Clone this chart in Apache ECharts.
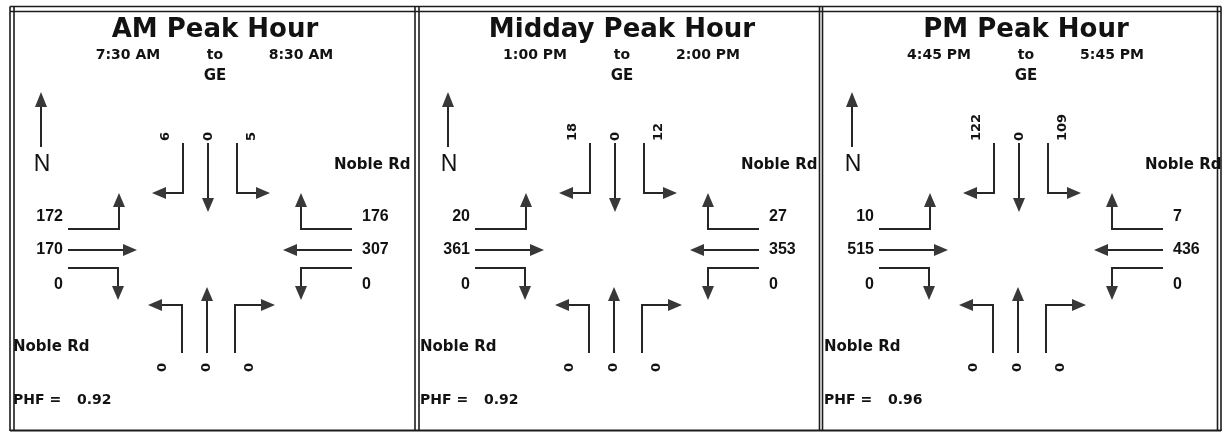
<!DOCTYPE html>
<html><head><meta charset="utf-8">
<script src="https://cdn.jsdelivr.net/npm/echarts@6/dist/echarts.min.js"></script>
<style>html,body{margin:0;padding:0;background:#fff}#c{width:1225px;height:433px}</style>
</head><body><div id="c"></div>
<script>
// ---------------- DATA ----------------
const periods = ['AM Peak Hour', 'Midday Peak Hour', 'PM Peak Hour'];
const startTimes = ['7:30 AM', '1:00 PM', '4:45 PM'];
const endTimes = ['8:30 AM', '2:00 PM', '5:45 PM'];
const locationCode = 'GE';
const eastWestRoad = 'Noble Rd';
const phfValues = ['0.92', '0.92', '0.96'];
// lanes: N/S approaches listed west -> east, E/W approaches listed north -> south
const southbound = [[6, 0, 5], [18, 0, 12], [122, 0, 109]];
const eastbound = [[172, 170, 0], [20, 361, 0], [10, 515, 0]];
const westbound = [[176, 307, 0], [27, 353, 0], [7, 436, 0]];
const northbound = [[0, 0, 0], [0, 0, 0], [0, 0, 0]];

// ---------------- LAYOUT ----------------
const PANEL_LEFT = [9, 416, 820];
const PANEL_W = 404, PANEL_H = 433;
const APPROACHES = ['SB', 'EB', 'WB', 'NB'];
const APPROACH_DATA = { SB: southbound, EB: eastbound, WB: westbound, NB: northbound };
const LANES = {
  SB: [
    { path: [[174, 143], [174, 193], [143, 193]], lab: [157, 141], rot: true },
    { path: [[199, 143], [199, 212]], lab: [200, 141], rot: true },
    { path: [[228, 143], [228, 193], [261, 193]], lab: [243, 141], rot: true }
  ],
  EB: [
    { path: [[59, 229], [110, 229], [110, 193]], lab: [54, 217], align: 'right' },
    { path: [[59, 250], [128, 250]], lab: [54, 250], align: 'right' },
    { path: [[59, 268], [109, 268], [109, 300]], lab: [54, 285], align: 'right' }
  ],
  WB: [
    { path: [[343, 229], [292, 229], [292, 193]], lab: [353, 217], align: 'left' },
    { path: [[343, 250], [274, 250]], lab: [353, 250], align: 'left' },
    { path: [[343, 268], [292, 268], [292, 300]], lab: [353, 285], align: 'left' }
  ],
  NB: [
    { path: [[173, 353], [173, 305], [139, 305]], lab: [154, 372], rot: true },
    { path: [[198, 353], [198, 287]], lab: [198, 372], rot: true },
    { path: [[226, 353], [226, 305], [266, 305]], lab: [241, 372], rot: true }
  ]
};
const LINE_COLOR = '#262626', HEAD_COLOR = '#383838', TEXT_COLOR = '#121212';
const DJ = '"DejaVu Sans", sans-serif', LB = '"Liberation Sans", Arial, sans-serif';

function arrow(pts, L, W) {
  const tip = pts[pts.length - 1], prev = pts[pts.length - 2];
  const dx = tip[0] - prev[0], dy = tip[1] - prev[1];
  const len = Math.hypot(dx, dy) || 1;
  const ux = dx / len, uy = dy / len;
  const base = [tip[0] - ux * L, tip[1] - uy * L];
  const head = [tip, [base[0] - uy * W, base[1] + ux * W], [base[0] + uy * W, base[1] - ux * W]];
  const linePts = pts.slice(0, -1).concat([[base[0] + ux * 2, base[1] + uy * 2]]);
  return [
    { type: 'polyline', shape: { points: linePts }, style: { stroke: LINE_COLOR, lineWidth: 2, fill: null } },
    { type: 'polygon', shape: { points: head }, style: { fill: HEAD_COLOR } }
  ];
}

function renderMove(params, api) {
  const appr = APPROACHES[api.value(0)];
  const lane = LANES[appr][api.value(1)];
  const val = api.value(2);
  const pts = lane.path.map(p => api.coord(p));
  const children = arrow(pts, 14, 6);
  const lp = api.coord(lane.lab);
  if (lane.rot) {
    children.push({ type: 'text', x: lp[0], y: lp[1], rotation: Math.PI / 2,
      style: { text: String(val), x: 0, y: 0, align: 'left', verticalAlign: 'middle', font: 'bold 13px ' + DJ, fill: TEXT_COLOR } });
  } else {
    children.push({ type: 'text',
      style: { text: String(val), x: lp[0], y: lp[1], align: lane.align, verticalAlign: 'middle', font: 'bold 16px ' + LB, fill: TEXT_COLOR } });
  }
  return { type: 'group', children };
}

function txt(api, pos, text, font, align) {
  const p = api.coord(pos);
  return { type: 'text', style: { text, x: p[0], y: p[1], align: align || 'center', verticalAlign: 'middle', font, fill: TEXT_COLOR } };
}

function makeStatic(i) {
  return function (params, api) {
    const children = [
      txt(api, [206, 30], periods[i], 'bold 26px ' + DJ),
      txt(api, [119, 55], startTimes[i], 'bold 14px ' + DJ),
      txt(api, [206, 55], 'to', 'bold 14px ' + DJ),
      txt(api, [292, 55], endTimes[i], 'bold 14px ' + DJ),
      txt(api, [206, 76], locationCode, 'bold 15px ' + DJ),
      txt(api, [33, 165], 'N', '23px ' + LB),
      txt(api, [325, 165], eastWestRoad, 'bold 15px ' + DJ, 'left'),
      txt(api, [4, 347], eastWestRoad, 'bold 15px ' + DJ, 'left'),
      txt(api, [4, 400], 'PHF =', 'bold 14px ' + DJ, 'left'),
      txt(api, [68, 400], phfValues[i], 'bold 14px ' + DJ, 'left')
    ];
    const npts = [api.coord([32, 147]), api.coord([32, 92])];
    arrow(npts, 15, 6).forEach(c => children.push(c));
    return { type: 'group', children };
  };
}

const grids = [], xAxes = [], yAxes = [], series = [];
periods.forEach((name, i) => {
  grids.push({ left: PANEL_LEFT[i], top: 0, width: PANEL_W, height: PANEL_H, show: false });
  xAxes.push({ type: 'value', gridIndex: i, min: 0, max: PANEL_W, show: false });
  yAxes.push({ type: 'value', gridIndex: i, min: 0, max: PANEL_H, inverse: true, show: false });
  const moves = [];
  APPROACHES.forEach((a, ai) => {
    APPROACH_DATA[a][i].forEach((v, li) => moves.push([ai, li, v]));
  });
  series.push({ type: 'custom', name: name, xAxisIndex: i, yAxisIndex: i, silent: true, clip: false,
    renderItem: renderMove, data: moves, animation: false });
  series.push({ type: 'custom', name: name + ' labels', xAxisIndex: i, yAxisIndex: i, silent: true, clip: false,
    renderItem: makeStatic(i), data: [[0, 0]], animation: false });
});

// panel frames (double rules)
const B = '#1c1c1c';
const vx = [10, 14, 415, 419, 819.5, 822.5, 1217.5, 1221];
const graphic = vx.map(x => ({ type: 'line', shape: { x1: x, y1: 6.5, x2: x, y2: 431 }, style: { stroke: B, lineWidth: 1.6 }, silent: true }));
[6.5, 11.5].forEach(y => graphic.push({ type: 'line', shape: { x1: 10, y1: y, x2: 1221, y2: y }, style: { stroke: B, lineWidth: 1.6 }, silent: true }));
graphic.push({ type: 'line', shape: { x1: 10, y1: 430.5, x2: 1221, y2: 430.5 }, style: { stroke: B, lineWidth: 1.8 }, silent: true });

const chart = echarts.init(document.getElementById('c'), null, { renderer: 'canvas' });
chart.setOption({
  backgroundColor: '#ffffff',
  animation: false,
  grid: grids, xAxis: xAxes, yAxis: yAxes, series: series,
  graphic: graphic
});
</script></body></html>
